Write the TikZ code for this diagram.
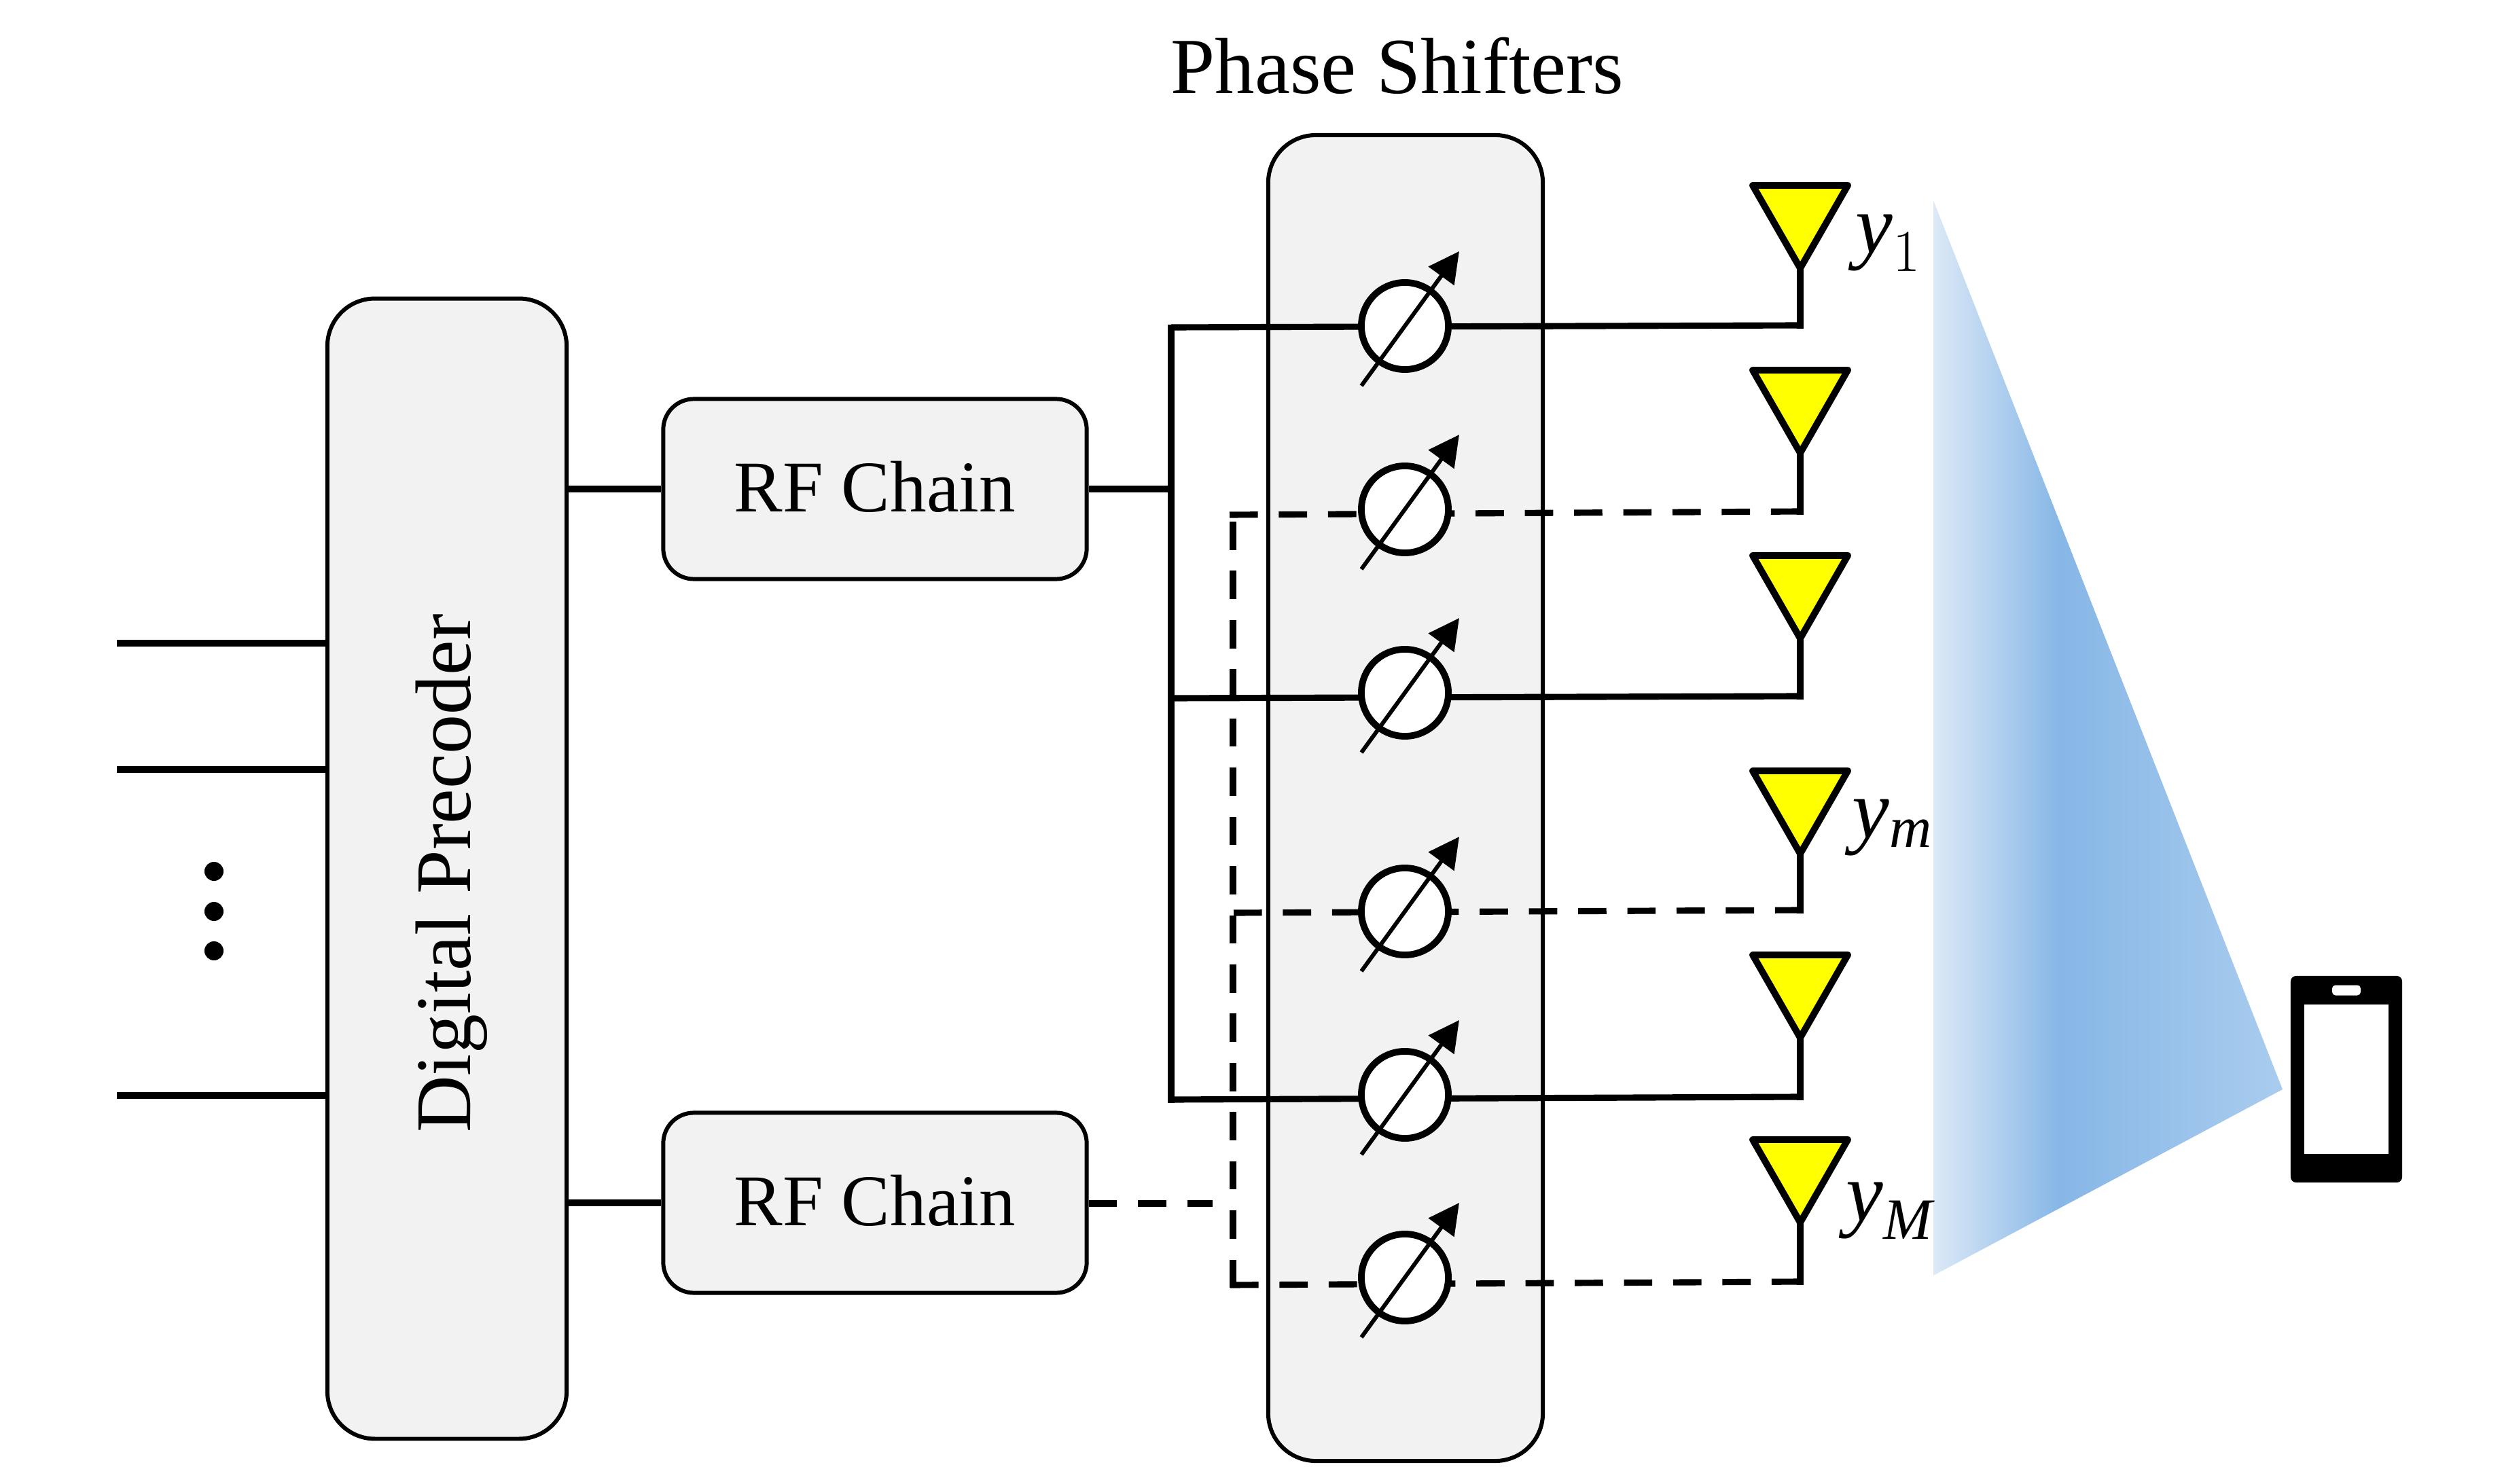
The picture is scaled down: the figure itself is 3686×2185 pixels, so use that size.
\documentclass[tikz,border=0pt]{standalone}
\usepackage{fontspec}
\setmainfont{Liberation Serif}
\usetikzlibrary{arrows.meta}

\definecolor{boxgray}{HTML}{F2F2F2}
\definecolor{antyellow}{HTML}{FFFF00}
\definecolor{beamlight}{HTML}{DCE9F7}
\definecolor{beamdark}{HTML}{87B7E6}
\definecolor{beamright}{HTML}{A9CCEE}
\pgfdeclarehorizontalshading{beamfade}{100bp}{color(0bp)=(beamlight); color(25bp)=(beamlight); color(43bp)=(beamdark); color(75bp)=(beamright); color(100bp)=(beamright)}

\tikzset{
    panel/.style={draw, fill=boxgray, line width=1.7pt, inner sep=0pt, rounded corners=0.7cm},
    rfbox/.style={panel, rounded corners=0.45cm, minimum width=6.23cm, minimum height=2.65cm, font=\fontsize{30.5}{37}\selectfont},
    wire/.style={line width=2.6pt},
    dashwire/.style={wire, dash pattern=on 11.84pt off 8.76pt},
    shifter/.style={circle, draw, fill=white, line width=2.8pt, inner sep=0pt, minimum size=1.28cm},
    antenna/.style={draw, fill=antyellow, line width=2.8pt, line join=round},
    ylabel/.style={font=\fontsize{35}{42}\selectfont, inner sep=0pt}
}

\begin{document}
\begin{tikzpicture}[x=0.01cm, y=-0.01cm]
    \useasboundingbox (0,0) rectangle (3686,2185);

    % Beam towards the phone
    \shade[shading=beamfade] (2846,295) -- (3360,1604) -- (2846,1878) -- cycle;

    % Digital precoder and RF chains
    \node[panel, minimum width=3.52cm, minimum height=16.78cm] (precoder) at (658,1279) {};
    \node[font=\fontsize{33}{40}\selectfont, rotate=90] (precodertext) at (665,1286) {Digital Precoder};
    \node[rfbox] (rfa) at (1288,720) {\raisebox{2pt}{RF Chain}};
    \node[rfbox] (rfb) at (1288,1771) {\raisebox{2pt}{RF Chain}};

    % Phase shifter panel
    \node[panel, minimum width=4.04cm, minimum height=19.51cm] (phase) at (2069,1175) {};
    \node[font=\fontsize{33.3}{40}\selectfont] (phasetitle) at (2057,97) {Phase Shifters};

    % Input streams
    \foreach \y/\n in {947/a,1133/b,1613/c} {
        \coordinate (in\n) at (172,\y);
        \draw[wire] (in\n) -- (in\n -| precoder.west);
    }
    \foreach \y/\n in {1283/a,1342/b,1400/c}
        \node[circle, fill=black, inner sep=0pt, minimum size=0.28cm] (dot\n) at (315,\y) {};

    % Precoder to RF chains
    \draw[wire] (precoder.east |- rfa.west) -- (rfa.west);
    \draw[wire] (precoder.east |- rfb.west) -- (rfb.west);

    % Antennas
    \foreach \n/\y in {1/273,2/545,3/818,4/1135,5/1406,6/1678} {
        \draw[antenna] (2580,\y) -- (2720,\y) -- (2650,\y+122) -- cycle;
        \coordinate (tip\n) at (2650,\y+122);
    }

    % Solid bus and its branches
    \coordinate (solidbus) at (1724,720);
    \draw[wire] (rfa.east) -- (solidbus);
    \draw[wire] (solidbus |- 0,477.5) -- (solidbus |- 0,1623.5);
    \foreach \n/\yl/\yr in {1/482/479,3/1028/1025,5/1619/1615} {
        \draw[wire] (solidbus |- 0,\yl) -- (2650,\yr);
        \draw[wire, line width=2.8pt] (tip\n) -- (2650,\yr+4.5);
    }

    % Dashed bus and its branches
    \coordinate (dashbus) at (1815,1772);
    \draw[dashwire] (rfb.east |- dashbus) -- (1785,1772);
    \draw[dashwire] (dashbus |- 0,768) -- (dashbus |- 0,1896);
    \foreach \n/\xl/\yl/\yr in {2/1810/758/753,4/1816/1344/1340,6/1811/1892/1887} {
        \draw[dashwire] (\xl,\yl) -- (2650,\yr);
        \draw[wire, line width=2.8pt] (tip\n) -- (2650,\yr+4.5);
    }

    % Phase shifters with slanted arrows
    \foreach \n/\y in {1/480,2/750,3/1020,4/1342,5/1612,6/1881} {
        \node[shifter] (ps\n) at (2068,\y) {};
        \draw[line width=1.7pt, -{Triangle[length=12.8pt, width=13pt]}] ([shift={(-64,88)}]ps\n.center) -- ([shift={(80,-110)}]ps\n.center);
    }

    % Antenna labels
    \node[ylabel] (yone) at (2780,358) {$\mathit{y}_1$};
    \node[ylabel] (ym) at (2786,1219) {$\mathit{y}_{\mathit{m}}$};
    \node[ylabel] (yM) at (2782,1783) {$\mathit{y}_{\mathit{M}}$};

    % Phone
    \node[fill=black, rounded corners=0.08cm, inner sep=0pt, minimum width=1.64cm, minimum height=3.04cm] (phone) at (3454,1589) {};
    \node[fill=white, inner sep=0pt, minimum width=1.24cm, minimum height=2.2cm] (screen) at (3454,1589) {};
    \node[fill=white, rounded corners=0.05cm, inner sep=0pt, minimum width=0.42cm, minimum height=0.15cm] (speaker) at (3454,1458) {};
\end{tikzpicture}
\end{document}
